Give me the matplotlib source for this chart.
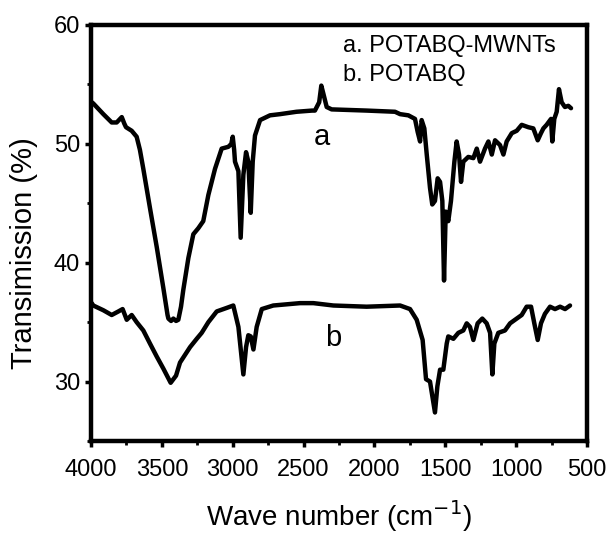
import matplotlib
matplotlib.use("Agg")
import matplotlib.pyplot as plt
from matplotlib.ticker import MultipleLocator

plt.rcParams['font.family'] = ['Liberation Sans', 'DejaVu Sans']

# Curve a: POTABQ-MWNTs
wn_a = [3995, 3984, 3913, 3854, 3819, 3783, 3765, 3753, 3713, 3678, 3655, 3631, 3584, 3536,
        3490, 3460, 3454, 3435, 3419, 3400, 3384, 3365, 3349, 3313, 3278, 3243, 3208, 3172,
        3125, 3078, 3031, 3010, 3000, 2990, 2984, 2960, 2944, 2925, 2906, 2890, 2873, 2859,
        2843, 2807, 2737, 2666, 2550, 2440, 2420, 2390, 2375, 2360, 2337, 2302, 2055, 1855,
        1819, 1761, 1714, 1695, 1678, 1667, 1648, 1631, 1608, 1592, 1573, 1554, 1537, 1521,
        1509, 1497, 1479, 1460, 1436, 1420, 1403, 1389, 1373, 1338, 1302, 1278, 1255, 1220,
        1196, 1172, 1149, 1114, 1090, 1067, 1031, 996, 961, 914, 879, 848, 825, 808, 785,
        754, 745, 731, 714, 698, 679, 656, 632, 613]
t_a = [53.5, 53.4, 52.5, 51.8, 51.8, 52.25, 51.7, 51.4, 51.1, 50.6, 49.5, 47.9, 44.6, 41.3,
       37.9, 35.6, 35.3, 35.1, 35.3, 35.1, 35.2, 36.3, 37.7, 40.4, 42.4, 42.9, 43.5, 45.7,
       47.9, 49.6, 49.75, 50.0, 50.6, 49.5, 48.5, 47.7, 42.1, 47.4, 49.3, 48.5, 44.2, 48.5,
       50.7, 52.0, 52.4, 52.5, 52.7, 52.8, 52.8, 53.5, 54.9, 54.2, 53.1, 52.9, 52.8, 52.7,
       52.5, 52.4, 52.1, 51.0, 50.2, 52.0, 51.3, 49.1, 46.3, 44.9, 45.2, 47.1, 46.8, 45.2,
       38.5, 44.3, 43.5, 45.2, 48.5, 50.2, 49.1, 46.8, 48.5, 48.9, 48.8, 49.6, 48.5, 49.6,
       50.2, 49.1, 50.3, 49.9, 49.1, 50.2, 50.9, 51.1, 51.6, 51.4, 51.3, 50.3, 50.9, 51.3, 51.6,
       52.1, 50.2, 52.1, 52.7, 54.6, 53.5, 53.1, 53.2, 53.0]

# Curve b: POTABQ
wn_b = [3995, 3984, 3913, 3854, 3807, 3777, 3748, 3713, 3678, 3631, 3584, 3536, 3490, 3438,
        3400, 3372, 3301, 3254, 3219, 3172, 3113, 3042, 2996, 2960, 2925, 2906, 2890, 2873,
        2854, 2831, 2795, 2714, 2525, 2431, 2290, 2055, 1819, 1749, 1702, 1660, 1636, 1608,
        1573, 1556, 1537, 1514, 1490, 1479, 1443, 1408, 1373, 1349, 1326, 1302, 1272, 1239,
        1208, 1184, 1168, 1154, 1126, 1079, 1043, 1008, 961, 926, 895, 872, 848, 825, 797,
        761, 726, 690, 655, 620]
t_b = [36.6, 36.4, 36.0, 35.6, 35.9, 36.1, 35.2, 35.6, 35.0, 34.3, 33.2, 32.1, 31.1, 29.9,
       30.5, 31.6, 32.9, 33.6, 34.1, 35.0, 35.9, 36.2, 36.4, 34.6, 30.6, 32.9, 33.9, 33.8,
       32.7, 34.6, 36.1, 36.4, 36.6, 36.6, 36.4, 36.3, 36.4, 36.1, 35.2, 33.5, 30.2, 30.0,
       27.4, 29.6, 31.0, 31.0, 33.2, 33.8, 33.6, 34.1, 34.3, 34.9, 34.6, 33.5, 34.9, 35.3,
       34.9, 34.1, 30.6, 33.2, 34.1, 34.3, 34.9, 35.2, 35.6, 36.3, 36.3, 34.9, 33.5, 34.9, 35.7,
       36.3, 36.1, 36.3, 36.1, 36.4]

legend_lines = ["a. POTABQ-MWNTs", "b. POTABQ"]
curve_labels = ["a", "b"]

fig = plt.figure(figsize=(6.08, 5.33), dpi=100)
ax = fig.add_axes([0.1497, 0.1726, 0.8158, 0.7805])

for wn, t in ((wn_a, t_a), (wn_b, t_b)):
    ax.plot(wn, t, color='black', lw=3.2, solid_joinstyle='round', solid_capstyle='round')

ax.set_xlim(4000, 500)
ax.set_ylim(25, 60)
ax.xaxis.set_major_locator(MultipleLocator(500))
ax.xaxis.set_minor_locator(MultipleLocator(250))
ax.yaxis.set_major_locator(MultipleLocator(10))
ax.yaxis.set_minor_locator(MultipleLocator(5))
ax.set_yticks([30, 40, 50, 60])

for s in ax.spines.values():
    s.set_linewidth(3.2)
ax.tick_params(which='major', direction='out', length=4, width=2.5, labelsize=17, pad=4)
ax.tick_params(which='minor', direction='out', length=3, width=2.0)
ax.tick_params(axis='x', which='major', pad=9)

ax.set_xlabel("Wave number (cm$^{-1}$)", fontsize=20, labelpad=12)
ax.set_ylabel("Transimission (%)", fontsize=21)
ax.yaxis.set_label_coords(-0.107, 0.452)

ax.text(2222, 57.7, legend_lines[0], fontsize=17, ha='left', va='baseline')
ax.text(2222, 55.3, legend_lines[1], fontsize=17, ha='left', va='baseline')
ax.text(2370, 50.6, curve_labels[0], fontsize=21, ha='center', va='center')
ax.text(2292, 33.7, curve_labels[1], fontsize=21, ha='center', va='center')

fig.savefig("out.png", dpi=100)
